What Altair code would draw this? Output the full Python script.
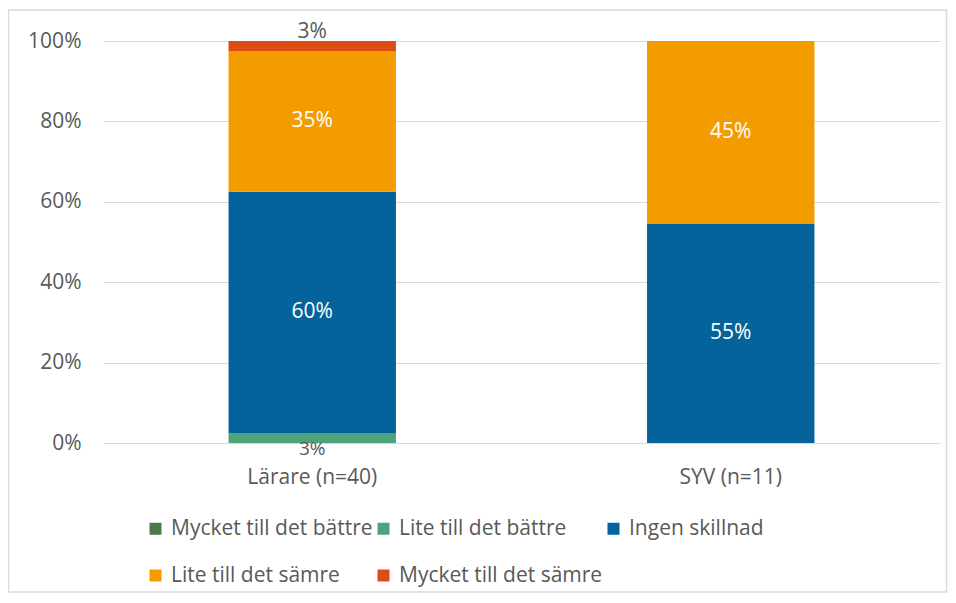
import altair as alt
import pandas as pd

categories = ["Lärare (n=40)", "SYV (n=11)"]
series = ["Mycket till det bättre", "Lite till det bättre", "Ingen skillnad",
          "Lite till det sämre", "Mycket till det sämre"]
colors = ["#4a7a4c", "#4fa37b", "#03639a", "#f39c00", "#dc4d14"]
larare_values = [0.0, 0.025, 0.60, 0.35, 0.025]
syv_values = [0.0, 0.0, 0.545, 0.455, 0.0]
larare_labels = ["", "3%", "60%", "35%", "3%"]
syv_labels = ["", "", "55%", "45%", ""]
y_ticks = [0, 0.2, 0.4, 0.6, 0.8, 1.0]

FONT = "Open Sans"
FS = 21
GRAY = "#595959"

rows = []
for cat, vals, labs in [(categories[0], larare_values, larare_labels),
                        (categories[1], syv_values, syv_labels)]:
    cum = 0.0
    for i, (s, v, lab) in enumerate(zip(series, vals, labs)):
        start, end = cum, cum + v
        cum = end
        if v <= 0:
            place = "none"
        elif v < 0.05:
            place = "below" if i < 2 else "above"
        else:
            place = "inside"
        rows.append(dict(cat=cat, series=s, idx=i, value=v, start=start, end=end,
                         mid=(start + end) / 2, label=lab, place=place))
df = pd.DataFrame(rows)

x_enc = alt.X("cat:N", sort=categories, title=None,
              scale=alt.Scale(paddingInner=0.6, paddingOuter=0.3),
              axis=alt.Axis(labelAngle=0, ticks=False, domain=False,
                            labelPadding=23, labelFontSize=FS, labelColor=GRAY,
                            labelFont=FONT))
y_scale = alt.Scale(domain=[0, 1], nice=False)

bars = alt.Chart(df).transform_filter("datum.value > 0").mark_bar().encode(
    x=x_enc,
    y=alt.Y("start:Q", scale=y_scale, title=None,
            axis=alt.Axis(values=y_ticks, format=".0%", ticks=False, domain=False,
                          labelPadding=22, labelFontSize=FS, labelColor=GRAY,
                          labelFont=FONT, gridColor="#d9d9d9", gridWidth=1.2)),
    y2="end:Q",
    color=alt.Color("series:N", scale=alt.Scale(domain=series, range=colors),
                    title=None,
                    legend=alt.Legend(orient="none", legendX=42, legendY=477,
                                      direction="horizontal", columns=3,
                                      symbolType="square", symbolSize=144,
                                      symbolStrokeWidth=0, symbolOffset=0,
                                      labelFontSize=FS, labelColor=GRAY,
                                      labelFont=FONT, labelOffset=5,
                                      columnPadding=0, rowPadding=25,
                                      labelLimit=400)),
    order=alt.Order("idx:Q"),
)

inside = alt.Chart(df).transform_filter("datum.place == 'inside'").mark_text(
    color="white", fontSize=FS, font=FONT).encode(
    x=alt.X("cat:N", sort=categories), y=alt.Y("mid:Q", scale=y_scale), text="label:N")

above = alt.Chart(df).transform_filter("datum.place == 'above'").mark_text(
    color=GRAY, fontSize=FS, font=FONT, baseline="bottom", dy=1).encode(
    x=alt.X("cat:N", sort=categories), y=alt.Y("end:Q", scale=y_scale), text="label:N")

below = alt.Chart(df).transform_filter("datum.place == 'below'").mark_text(
    color=GRAY, fontSize=19, font=FONT, baseline="top", dy=-3).encode(
    x=alt.X("cat:N", sort=categories), y=alt.Y("start:Q", scale=y_scale), text="label:N")

frame = alt.Chart(pd.DataFrame({"a": [0]})).mark_rect(
    fill=None, stroke="#d9d9d9", strokeWidth=1.5).encode(
    x=alt.value(-94.5), x2=alt.value(843.5), y=alt.value(-31), y2=alt.value(551))

chart = alt.layer(frame, bars, inside, above, below).properties(
    width=837, height=402,
    autosize=alt.AutoSizeParams(type="none"),
    padding={"left": 95, "top": 33, "right": 8, "bottom": 150},
).configure_view(stroke=None)

chart.save("out.html", embed_options={"renderer": "svg", "actions": False})
